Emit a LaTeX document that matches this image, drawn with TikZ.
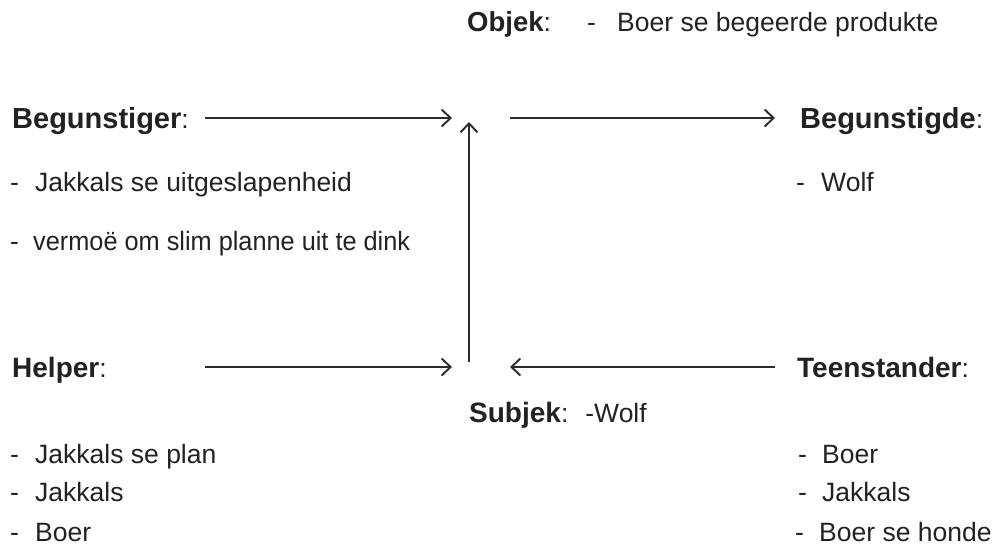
\documentclass[tikz,border=0pt]{standalone}
\usepackage{fontspec}
\usepackage{graphicx}
\setmainfont{Liberation Sans}
\usetikzlibrary{arrows.meta}
\definecolor{ink}{HTML}{222222}
\definecolor{arr}{HTML}{2b2b2b}
\newcommand{\hd}[2]{{\fontsize{#1}{30}\selectfont\bfseries #2}}
\tikzset{
  txt/.style={anchor=base west, inner sep=0pt, text=ink, font=\fontsize{26.5}{30}\selectfont},
  con/.style={draw=arr, line width=1.6pt, -{Straight Barb[length=9pt,width=17pt,line width=1.9pt]}}
}
\begin{document}
\begin{tikzpicture}[x=1pt,y=-1pt]
\useasboundingbox[fill=white] (0,0) rectangle (995,547);
% headings
\node[txt] (obj) at (467,31) {\hd{27.5}{Objek}:};
\node[txt] (objl) at (587,31) {\makebox[30pt][l]{-}Boer se begeerde produkte};
\node[txt] (beg) at (12,128) {\hd{29}{Begunstiger}:};
\node[txt] (begd) at (800,128) {\hd{29}{Begunstigde}:};
\node[txt] (help) at (12,377) {\hd{28}{Helper}:};
\node[txt] (teen) at (797,377) {\hd{28}{Teenstander}:};
\node[txt] (subj) at (469,422) {\hd{28}{Subjek}:\hspace{17pt}-Wolf};
% lists
\node[txt] (b1) at (10,191) {\makebox[25pt][l]{-}Jakkals se uitgeslapenheid};
\node[txt] (b2) at (10,250) {\makebox[23pt][l]{-}\scalebox{0.955}[1]{vermoë om slim planne uit te dink}};
\node[txt] (w1) at (796,191) {\makebox[25pt][l]{-}Wolf};
\node[txt] (h1) at (10,463) {\makebox[25pt][l]{-}Jakkals se plan};
\node[txt] (h2) at (10,501) {\makebox[25pt][l]{-}Jakkals};
\node[txt] (h3) at (10,541) {\makebox[25pt][l]{-}Boer};
\node[txt] (t1) at (798,463) {\makebox[24pt][l]{-}Boer};
\node[txt] (t2) at (798,501) {\makebox[24pt][l]{-}Jakkals};
\node[txt] (t3) at (795,541) {\makebox[24pt][l]{-}Boer se honde};
% connector end points
\coordinate (a1s) at (205,118);
\coordinate (a1e) at (452,118);
\coordinate (ups) at (469,362);
\coordinate (upe) at (469,122);
\coordinate (a2s) at (510,118);
\coordinate (a2e) at (775,118);
\coordinate (a3s) at (205,367);
\coordinate (a3e) at (452,367);
\coordinate (a4s) at (775,367);
\coordinate (a4e) at (510,367);
\draw[con] (a1s) -- (a1e);
\draw[con] (ups) -- (upe);
\draw[con] (a2s) -- (a2e);
\draw[con] (a3s) -- (a3e);
\draw[con] (a4s) -- (a4e);
\end{tikzpicture}
\end{document}
